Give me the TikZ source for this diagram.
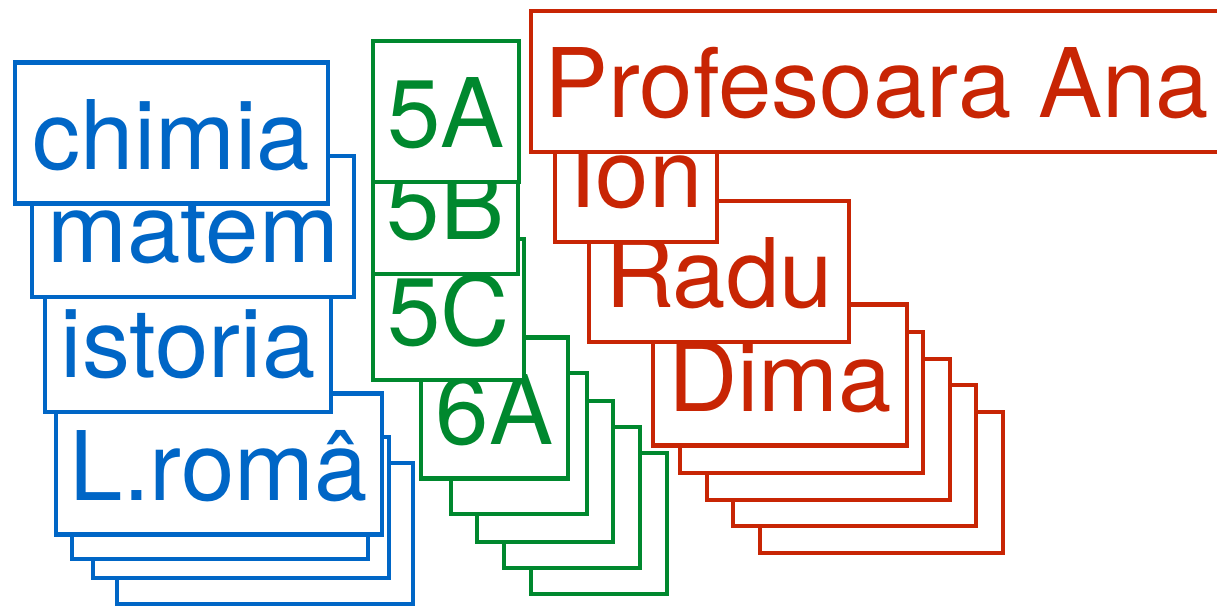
\documentclass[tikz,border=0pt]{standalone}
\usepackage{fontspec}
\setmainfont{TeX Gyre Heros}

\definecolor{subjblue}{HTML}{0066C6}
\definecolor{classgreen}{HTML}{00882E}
\definecolor{pupilred}{HTML}{C82504}

\tikzset{
  card/.style={draw, fill=white, line width=4.6pt, inner sep=0pt,
    minimum height=141pt, text height=72pt, text depth=0pt,
    font=\fontsize{96}{100}\selectfont},
  subject/.style={card, draw=subjblue, text=subjblue},
  klass/.style={card, draw=classgreen, text=classgreen},
  pupil/.style={card, draw=pupilred, text=pupilred},
}

\begin{document}
\begin{tikzpicture}[x=1pt,y=-1pt]

\clip (0,0) rectangle (1217,606);

% Subjects (blue stack)
\foreach \x/\y in {117/463, 93/437, 72/418}
    \draw[subjblue, line width=4.6pt, fill=white] (\x,\y) rectangle ++(296,141);

\node[subject, minimum width=326pt] (roman) at (219,464) {L.româ};
\node[subject, minimum width=286pt] (istoria) at (188,341.5) {istoria};
\node[subject, minimum width=322pt] (matem) at (193,226.5) {matem};
\node[subject, minimum width=313pt] (chimia) at (171.5,133) {chimia};

% Classes (green stack)
\foreach \x/\y in {531/453, 504/427, 477/401, 451/373}
    \draw[classgreen, line width=4.6pt, fill=white] (\x,\y) rectangle ++(136,141);

\node[klass, minimum width=147pt] (c6A) at (494.5,408) {6A};
\node[klass, minimum width=151pt] (c5C) at (448.5,309.5) {5C};
\node[klass, minimum width=145pt] (c5B) at (445.5,203.5) {5B};
\node[klass, minimum width=146pt] (c5A) at (446,111.5) {5A};

% Pupils (red stack)
\foreach \x/\y in {760/412, 733/385, 707/359, 680/332}
    \draw[pupilred, line width=4.6pt, fill=white] (\x,\y) rectangle ++(243,141);

\node[pupil, minimum width=254pt] (dima) at (780,375) {Dima};
\node[pupil, minimum width=260pt] (radu) at (719,271.5) {Radu};
\node[pupil, minimum width=162pt] (ion) at (636,171.5) {Ion};
\node[pupil, minimum width=691pt] (ana) at (876.5,81.5) {Profesoara Ana};

\end{tikzpicture}
\end{document}
